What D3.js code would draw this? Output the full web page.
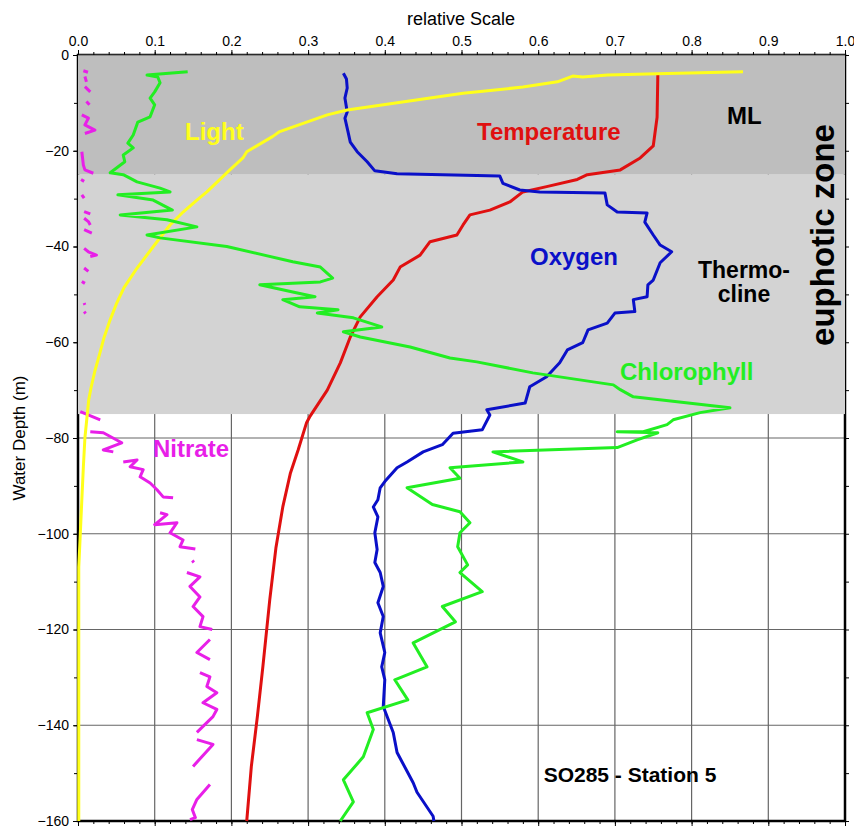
<!DOCTYPE html>
<html>
<head>
<meta charset="utf-8">
<script src="https://cdn.jsdelivr.net/npm/d3@7"></script>
<style>
  body { margin: 0; background: #fff; }
  svg { font-family: "Liberation Sans", Arial, Helvetica, sans-serif; }
</style>
</head>
<body>
<script>
// depth zones (m)
var zoneML = [0, -25];
var zoneThermo = [-25, -75];

var xTicks = [0, 0.1, 0.2, 0.3, 0.4, 0.5, 0.6, 0.7, 0.8, 0.9, 1.0];
var yTicks = [0, -20, -40, -60, -80, -100, -120, -140, -160];

// profiles: depth (m) and relative value
var tempDepth = [-4, -13, -19, -21.5, -24, -25, -26, -27.5, -28.6, -30.7, -32.4, -33.4, -35.5, -37.6, -39, -41.8, -44.3, -47, -50.5, -54.7, -58.9, -64.3, -70, -75.6, -76.8, -82.5, -87.3, -94.4, -103, -113.8, -127.8, -138, -148.6, -160];
var tempValue = [0.756, 0.755, 0.750, 0.733, 0.707, 0.664, 0.651, 0.611, 0.580, 0.563, 0.537, 0.511, 0.502, 0.494, 0.459, 0.446, 0.420, 0.411, 0.390, 0.368, 0.355, 0.342, 0.325, 0.302, 0.298, 0.287, 0.277, 0.267, 0.258, 0.250, 0.241, 0.234, 0.226, 0.220];

var oxyDepth = [-3.8, -5, -6.9, -9, -11.9, -13.2, -16, -18.2, -20.2, -22.3, -24.2, -24.8, -25.3, -26.8, -28.2, -28.6, -28.8, -31.3, -32.8, -33, -34.9, -37.6, -39.7, -41.1, -43.4, -47, -48, -50.5, -51.1, -53.6, -53.9, -56, -57.4, -60.1, -61.6, -64.3, -67.2, -69.3, -72.7, -74.1, -75.2, -78.3, -79, -81.4, -82.9, -85, -86.2, -89.1, -90.4, -92.9, -94.4, -96.5, -99.8, -103.3, -106, -108.1, -111, -114.4, -117.3, -120.7, -124.8, -127.8, -130.5, -136.1, -141.5, -145.7, -152, -154, -159, -160];
var oxyValue = [0.346, 0.350, 0.351, 0.348, 0.351, 0.348, 0.352, 0.355, 0.364, 0.377, 0.387, 0.416, 0.550, 0.554, 0.576, 0.602, 0.687, 0.690, 0.703, 0.742, 0.739, 0.750, 0.759, 0.774, 0.759, 0.750, 0.743, 0.742, 0.724, 0.726, 0.700, 0.690, 0.665, 0.658, 0.638, 0.628, 0.611, 0.589, 0.583, 0.533, 0.537, 0.527, 0.489, 0.475, 0.450, 0.429, 0.416, 0.400, 0.394, 0.391, 0.385, 0.391, 0.387, 0.390, 0.387, 0.394, 0.398, 0.391, 0.398, 0.394, 0.400, 0.396, 0.400, 0.398, 0.411, 0.416, 0.437, 0.442, 0.463, 0.464];

var lightDepth = [-3.5, -3.9, -4.2, -4.6, -4.4, -5.6, -6.7, -8, -9, -11.5, -12.5, -16, -17, -20.2, -21.5, -24, -28.6, -30.3, -32.8, -35.5, -39, -44.5, -48.6, -52, -55.7, -59, -62.6, -66, -69.5, -72, -75.2, -80, -86, -92.9, -100, -107, -160];
var lightValue = [0.867, 0.755, 0.690, 0.658, 0.645, 0.625, 0.580, 0.502, 0.459, 0.351, 0.325, 0.263, 0.254, 0.220, 0.215, 0.198, 0.168, 0.155, 0.137, 0.120, 0.103, 0.077, 0.060, 0.050, 0.041, 0.034, 0.028, 0.022, 0.017, 0.014, 0.012, 0.009, 0.007, 0.005, 0.003, 0.001, 0.001];

var chlDepth = [-3.5, -4.2, -4.6, -5.8, -7.7, -9, -10.4, -12.9, -14, -16.7, -18.4, -19.4, -20.9, -22.3, -24.6, -25, -26.5, -27.8, -28.6, -29.2, -30.3, -32.4, -33.4, -34.4, -35.9, -37.6, -38.2, -40, -43.2, -44.3, -46.6, -47.4, -48, -49.5, -50.5, -51.1, -52.6, -53.2, -53.9, -54.9, -56.8, -57.8, -58.9, -61, -63.3, -64.1, -66.4, -68.9, -69.9, -71.4, -73.7, -74.7, -76.2, -77.2, -78.7, -78.7, -78.9, -80.4, -82, -82.9, -85, -86.2, -88.4, -90.4, -93.9, -95.4, -97.7, -99.8, -102.7, -106.5, -108.1, -112.1, -115.2, -118.4, -122.8, -127.8, -130.5, -134.7, -137.4, -140.9, -146.6, -151.4, -156, -160];
var chlValue = [0.143, 0.090, 0.104, 0.107, 0.100, 0.094, 0.100, 0.094, 0.078, 0.072, 0.065, 0.072, 0.059, 0.061, 0.042, 0.059, 0.077, 0.107, 0.120, 0.052, 0.098, 0.123, 0.055, 0.116, 0.155, 0.090, 0.107, 0.194, 0.280, 0.316, 0.332, 0.316, 0.237, 0.280, 0.309, 0.267, 0.289, 0.339, 0.312, 0.359, 0.396, 0.346, 0.368, 0.433, 0.485, 0.520, 0.593, 0.698, 0.707, 0.724, 0.850, 0.811, 0.776, 0.768, 0.737, 0.703, 0.756, 0.729, 0.703, 0.541, 0.580, 0.485, 0.498, 0.429, 0.462, 0.498, 0.511, 0.498, 0.495, 0.508, 0.498, 0.527, 0.475, 0.492, 0.437, 0.455, 0.413, 0.430, 0.377, 0.385, 0.372, 0.346, 0.359, 0.342];

// nitrate has gaps (null)
var nitDepth = [-3.3, -3.6, null, -4.5, -5.6, null, -6.6, -7.7, null, -9.7, -10.4, null, -12.5, -13.2, -14.6, -15.7, -16.4, null, -20.2, -23, -24, -24.7, null, -26, -26.4, null, -29.2, -29.9, null, -32.7, -33.2, null, -34.1, -34.8, -35.5, null, -36.5, -37.2, null, -40.4, -41.1, -41.8, -42.1, null, -44.5, -45.2, null, -47.3, -47.7, null, -51.8, -52.2, null, -53.6, -54, null,
  -74.5, -76.2, null, -78.7, -78.9, -81, -82.5, -82.9, null, -85, -84.6, -86, -86.6, -88.1, -89.4, -90.8, -92.3, -92.5, null, -95.6, -96, -98.1, -97.7, -99.8, -101.3, -102.7, -103.2, null, -105.6, -106, null, -108.1, -109, -111, -113.2, -115.2, -117.3, -119.4, -120, null, -122.1, -124.8, -126.3, null, -129, -129.9, -131.9, -133.2, -135.3, -136.7, -138.2, -141.5, null, -143, -144, -148.6, null, -152.4, -155.5, -157.6, -159.3, -159.7];
var nitValue = [0.007, 0.013, null, 0.009, 0.011, null, 0.009, 0.016, null, 0.011, 0.015, null, 0.005, 0.0135, 0.009, 0.022, 0.009, null, 0.005, 0.007, 0.009, 0.02, null, 0.004, 0.008, null, 0.005, 0.008, null, 0.008, 0.016, null, 0.008, 0.0135, 0.016, null, 0.008, 0.018, null, 0.008, 0.0135, 0.024, 0.016, null, 0.008, 0.0135, null, 0.005, 0.009, null, 0.008, 0.009, null, 0.008, 0.01, null,
  0.003, 0.029, null, 0.016, 0.033, 0.057, 0.033, 0.046, null, 0.059, 0.077, 0.068, 0.085, 0.081, 0.094, 0.103, 0.111, 0.124, null, 0.107, 0.116, 0.100, 0.129, 0.120, 0.137, 0.133, 0.153, null, 0.149, 0.151, null, 0.142, 0.159, 0.146, 0.159, 0.150, 0.163, 0.159, 0.175, null, 0.172, 0.155, 0.172, null, 0.159, 0.172, 0.168, 0.181, 0.163, 0.181, 0.176, 0.155, null, 0.155, 0.176, 0.150, null, 0.172, 0.155, 0.149, 0.153, 0.146];

var W = 854, H = 827;
var svg = d3.select('body').append('svg').attr('width', W).attr('height', H);

var x = d3.scaleLinear().domain([0, 1]).range([78, 845]);
var y = d3.scaleLinear().domain([0, -160]).range([55, 821]);

// grid
var grid = svg.append('g').attr('class', 'grid');
grid.selectAll('line.vg')
    .data(xTicks.slice(1, -1))
    .enter().append('line')
        .attr('x1', function(d){return x(d);}).attr('x2', function(d){return x(d);})
        .attr('y1', y(0)).attr('y2', y(-160))
        .attr('stroke', '#666').attr('stroke-width', 1.2);
grid.selectAll('line.hg')
    .data(yTicks.slice(1, -1))
    .enter().append('line')
        .attr('y1', function(d){return y(d);}).attr('y2', function(d){return y(d);})
        .attr('x1', x(0)).attr('x2', x(1))
        .attr('stroke', '#666').attr('stroke-width', 1.2);

// frame
svg.append('rect')
    .attr('x', x(0)).attr('y', y(0))
    .attr('width', x(1) - x(0)).attr('height', y(-160) - y(0))
    .attr('fill', 'none').attr('stroke', '#000').attr('stroke-width', 2.5);

// zones
svg.append('rect')
    .attr('x', x(0)).attr('y', y(zoneML[0]))
    .attr('width', x(1) - x(0)).attr('height', y(zoneML[1]) - y(zoneML[0]))
    .attr('fill', '#bebebe');
svg.append('rect')
    .attr('x', x(0)).attr('y', y(zoneThermo[0]))
    .attr('width', x(1) - x(0)).attr('height', y(zoneThermo[1]) - y(zoneThermo[0]))
    .attr('fill', '#d3d3d3');
svg.append('line')
    .attr('x1', x(0)).attr('x2', x(1)).attr('y1', y(0)).attr('y2', y(0))
    .attr('stroke', '#555').attr('stroke-width', 1.2);

// axes
function styleAxis(g) {
    g.select('.domain').remove();
    g.selectAll('.tick line').attr('stroke', '#000').attr('stroke-width', 1);
    g.selectAll('.tick text').attr('fill', '#000');
}
var minorX = d3.range(0, 1.0001, 0.02);
var minorY = d3.range(0, -160.001, -10);

svg.append('g').attr('transform', 'translate(0,' + y(0) + ')')
    .call(d3.axisTop(x).tickValues(minorX).tickSize(3).tickFormat(''))
    .call(styleAxis);
svg.append('g').attr('transform', 'translate(0,' + y(0) + ')')
    .call(d3.axisTop(x).tickValues(xTicks).tickSize(5).tickPadding(4).tickFormat(d3.format('.1f')))
    .call(styleAxis)
    .selectAll('text').attr('font-size', 14).attr('font-family', '"Liberation Sans", Arial, sans-serif');
svg.append('g').attr('transform', 'translate(0,' + y(-160) + ')')
    .call(d3.axisBottom(x).tickValues(minorX).tickSize(3).tickFormat(''))
    .call(styleAxis);
svg.append('g').attr('transform', 'translate(0,' + y(-160) + ')')
    .call(d3.axisBottom(x).tickValues(xTicks).tickSize(5).tickFormat(''))
    .call(styleAxis);
svg.append('g').attr('transform', 'translate(' + x(0) + ',0)')
    .call(d3.axisLeft(y).tickValues(minorY).tickSize(4).tickFormat(''))
    .call(styleAxis);
svg.append('g').attr('transform', 'translate(' + x(0) + ',0)')
    .call(d3.axisLeft(y).tickValues(yTicks).tickSize(5).tickPadding(4).tickFormat(d3.format('d')))
    .call(styleAxis)
    .selectAll('text').attr('font-size', 14).attr('font-family', '"Liberation Sans", Arial, sans-serif');
svg.append('g').attr('transform', 'translate(' + x(1) + ',0)')
    .call(d3.axisRight(y).tickValues(minorY).tickSize(4).tickFormat(''))
    .call(styleAxis);

svg.append('text').attr('x', 461).attr('y', 25).attr('text-anchor', 'middle')
    .attr('font-size', 18).text('relative Scale');
svg.append('text').attr('transform', 'translate(25,438) rotate(-90)').attr('text-anchor', 'middle')
    .attr('font-size', 17).text('Water Depth (m)');

// profiles
var line = d3.line()
    .defined(function(d){return d[0] != null && d[1] != null;})
    .x(function(d){return x(d[1]);})
    .y(function(d){return y(d[0]);});

var series = [
    {name: 'Nitrate', depth: nitDepth, value: nitValue, color: '#e81fe8'},
    {name: 'Temperature', depth: tempDepth, value: tempValue, color: '#e01010'},
    {name: 'Oxygen', depth: oxyDepth, value: oxyValue, color: '#0a10c8'},
    {name: 'Light', depth: lightDepth, value: lightValue, color: '#ffff1a'},
    {name: 'Chlorophyll', depth: chlDepth, value: chlValue, color: '#22ee22'}
];

for (var i = 0; i < series.length; i++) {
    svg.append('path')
        .attr('d', line(d3.zip(series[i].depth, series[i].value)))
        .attr('fill', 'none')
        .attr('stroke', series[i].color)
        .attr('stroke-width', 3)
        .attr('stroke-linejoin', 'round');
}

// labels
var labels = [
    {t: 'Light', x: 185, y: 140, c: '#ffff1a'},
    {t: 'Temperature', x: 477, y: 140, c: '#e01010'},
    {t: 'ML', x: 727, y: 124, c: '#000'},
    {t: 'Oxygen', x: 530, y: 265, c: '#0a10c8'},
    {t: 'Chlorophyll', x: 620, y: 380, c: '#22ee22'},
    {t: 'Nitrate', x: 153, y: 457, c: '#e81fe8'}
];
svg.selectAll('text.lbl')
    .data(labels)
    .enter().append('text')
        .attr('class', 'lbl')
        .attr('x', function(d){return d.x;})
        .attr('y', function(d){return d.y;})
        .attr('fill', function(d){return d.c;})
        .attr('font-size', 24).attr('font-weight', 'bold')
        .text(function(d){return d.t;});

svg.append('text').attr('x', 744).attr('y', 278).attr('text-anchor', 'middle')
    .attr('font-size', 23).attr('font-weight', 'bold').text('Thermo-');
svg.append('text').attr('x', 744).attr('y', 302).attr('text-anchor', 'middle')
    .attr('font-size', 23).attr('font-weight', 'bold').text('cline');
svg.append('text').attr('transform', 'translate(834,235) rotate(-90)').attr('text-anchor', 'middle')
    .attr('font-size', 33).attr('font-weight', 'bold').text('euphotic zone');
svg.append('text').attr('x', 630).attr('y', 782).attr('text-anchor', 'middle')
    .attr('font-size', 21).attr('font-weight', 'bold').text('SO285 - Station 5');
</script>
</body>
</html>
